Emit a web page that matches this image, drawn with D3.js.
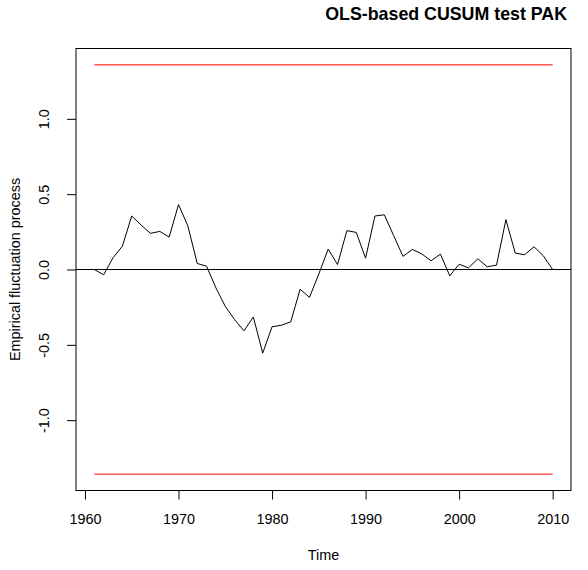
<!DOCTYPE html>
<html>
<head>
<meta charset="utf-8">
<script src="https://cdn.jsdelivr.net/npm/d3@7"></script>
<style>
  body { margin: 0; background: #fff; }
  text { font-family: "Liberation Sans", Arial, Helvetica, sans-serif; fill: #000; }
</style>
</head>
<body>
<div id="chart"></div>
<script>

// years of the fluctuation process
const years = d3.range(1961, 2011);

// empirical fluctuation process (OLS-based CUSUM)
const process = [
	0, -0.035, 0.078, 0.155, 0.355, 0.295, 0.24, 0.253, 0.215, 0.431,
	0.289, 0.04, 0.022, -0.122, -0.245, -0.333, -0.407, -0.315, -0.555, -0.38,
	-0.37, -0.347, -0.131, -0.185, -0.03, 0.135, 0.033, 0.258, 0.246, 0.075,
	0.355, 0.363, 0.225, 0.087, 0.133, 0.104, 0.058, 0.102, -0.042, 0.035,
	0.011, 0.071, 0.018, 0.029, 0.331, 0.109, 0.098, 0.151, 0.091, 0
];

// critical boundary at 5%
const boundary = [1.358, -1.358];

const xTicks = [1960, 1970, 1980, 1990, 2000, 2010];
const yTicks = [-1, -0.5, 0, 0.5, 1];

const title = "OLS-based CUSUM test PAK";
const xLabel = "Time";
const yLabel = "Empirical fluctuation process";

const width = 588, height = 570;
const plot = {left: 76, right: 571, top: 48.5, bottom: 490.5};

const svg = d3.select("#chart").append("svg")
	.attr("width", width)
	.attr("height", height);

// R style: extend the data range by 4% on each side
const xExt = d3.extent(years), xPad = (xExt[1] - xExt[0]) * 0.04;
const yMax = d3.max(boundary.concat(process).map(Math.abs)), yPad = yMax * 2 * 0.04;

const x = d3.scaleLinear()
	.domain([xExt[0] - xPad, xExt[1] + xPad])
	.range([plot.left, plot.right]);

const y = d3.scaleLinear()
	.domain([-yMax - yPad, yMax + yPad])
	.range([plot.bottom, plot.top]);

// boundaries
svg.append("g")
	.selectAll("line")
	.data(boundary)
	.enter()
		.append("line")
		.attr("x1", x(xExt[0]))
		.attr("x2", x(xExt[1]))
		.attr("y1", d => y(d))
		.attr("y2", d => y(d))
		.style("stroke", "#ff0000")
		.style("stroke-width", 1);

// zero line
svg.append("line")
	.attr("x1", plot.left)
	.attr("x2", plot.right)
	.attr("y1", y(0))
	.attr("y2", y(0))
	.style("stroke", "#000")
	.style("stroke-width", 1);

// process
const line = d3.line()
	.x((d, i) => x(years[i]))
	.y(d => y(d));

svg.append("path")
	.datum(process)
	.attr("d", line)
	.style("fill", "none")
	.style("stroke", "#000")
	.style("stroke-width", 1);

// box
svg.append("rect")
	.attr("x", plot.left)
	.attr("y", plot.top)
	.attr("width", plot.right - plot.left)
	.attr("height", plot.bottom - plot.top)
	.style("fill", "none")
	.style("stroke", "#000")
	.style("stroke-width", 1);

// x axis
const xAxis = svg.append("g")
	.attr("transform", `translate(0,${plot.bottom})`)
	.call(d3.axisBottom(x).tickValues(xTicks).tickFormat(d3.format("d")).tickSize(9));
xAxis.select(".domain").remove();
xAxis.selectAll("text")
	.attr("y", 33)
	.attr("dy", null)
	.style("font-size", "14.4px");

// y axis
const yAxis = svg.append("g")
	.attr("transform", `translate(${plot.left},0)`)
	.call(d3.axisLeft(y).tickValues(yTicks).tickFormat(d => d.toFixed(1)).tickSize(9));
yAxis.select(".domain").remove();
yAxis.selectAll("text")
	.attr("transform", "rotate(-90)")
	.attr("x", 0)
	.attr("y", -27)
	.attr("dy", null)
	.attr("text-anchor", "middle")
	.style("font-size", "14.4px");

svg.selectAll(".tick line").style("stroke", "#000");

// labels
svg.append("text")
	.attr("x", (plot.left + plot.right) / 2)
	.attr("y", 560)
	.attr("text-anchor", "middle")
	.style("font-size", "14.4px")
	.text(xLabel);

svg.append("text")
	.attr("transform", `translate(20,${(plot.top + plot.bottom) / 2}) rotate(-90)`)
	.attr("text-anchor", "middle")
	.style("font-size", "14.4px")
	.text(yLabel);

svg.append("text")
	.attr("x", 567)
	.attr("y", 20)
	.attr("text-anchor", "end")
	.style("font-size", "17.8px")
	.style("font-weight", "bold")
	.text(title);

</script>
</body>
</html>
